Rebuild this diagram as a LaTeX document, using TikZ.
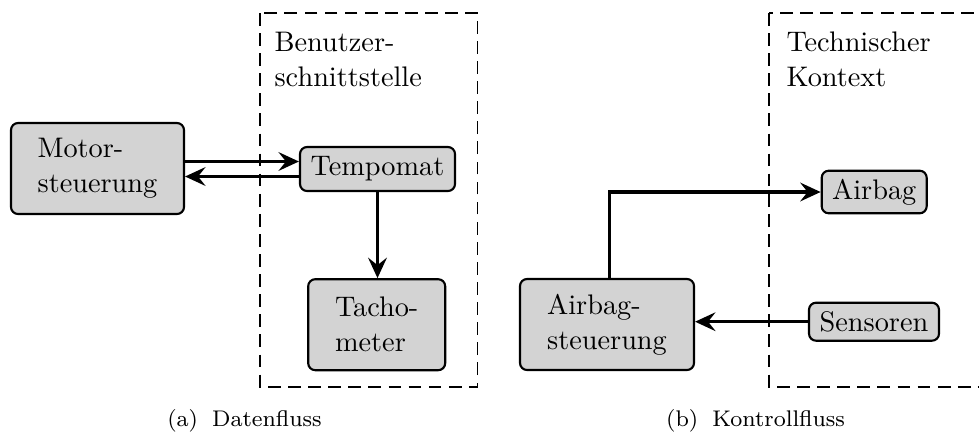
\documentclass[tikz,border=0pt]{standalone}
\usetikzlibrary{arrows.meta,calc}
\definecolor{boxgray}{RGB}{211,211,211}
\newdimen\pxu \pxu=0.3534pt
\tikzset{
 blk/.style={draw, line width=0.75pt, fill=boxgray, rounded corners=2.5pt, inner sep=0pt, align=left, font=\fontsize{10}{12.4}\selectfont},
 flow/.style={line width=1.1pt, -{Stealth[length=7.2pt, width=6.6pt, inset=2.6pt]}},
 region/.style={draw, line width=0.7pt, dash pattern=on 4.5pt off 2.6pt},
 regtitle/.style={anchor=north west, inner sep=0pt, align=left, font=\fontsize{10}{12.4}\selectfont},
 captxt/.style={anchor=base, inner sep=0pt, font=\footnotesize}
}
\begin{document}
\begin{tikzpicture}[x=0.3534pt, y=-0.3534pt]
\clip (0,0) rectangle (979,433);
\draw[region] (260,13) rectangle (477.5,386.7);
\draw[region] (769,13) rectangle (1000,386.7);
\node[regtitle] (bt) at (274,31.7) {Benutzer-\\schnittstelle};
\node[regtitle] (tk) at (786,31.7) {Technischer\\Kontext};
\node[blk, minimum width=173\pxu, minimum height=91\pxu] (motor) at (97.5,168.5) {Motor-\\steuerung};
\node[blk, minimum width=155\pxu, minimum height=44\pxu] (tempo) at (377.5,169) {Tempomat};
\node[blk, minimum width=137\pxu, minimum height=91\pxu] (tacho) at (376.7,324.7) {Tacho-\\meter};
\node[blk, minimum width=174\pxu, minimum height=91\pxu] (asteu) at (607,324.5) {Airbag-\\steuerung};
\node[blk, minimum width=105\pxu, minimum height=42.6\pxu] (airbag) at (874.2,192) {Airbag};
\node[blk, minimum width=130\pxu, minimum height=38\pxu] (sensor) at (874,321.7) {Sensoren};
\coordinate (t1) at ($(tempo.west)+(0,-7.5)$);
\coordinate (t2) at ($(tempo.west)+(0,7.5)$);
\draw[flow] (motor.east |- t1) -- (t1);
\draw[flow] (t2) -- (motor.east |- t2);
\draw[flow] (tempo.south) -- (tempo.south |- tacho.north);
\draw[flow] ([xshift=1pt]asteu.north) |- (airbag.west);
\draw[flow] (sensor.west) -- (sensor.west -| asteu.east);
\node[captxt] (ca) at (244.5,426) {(a)\hspace{5pt}Datenfluss};
\node[captxt] (cb) at (755.5,426) {(b)\hspace{5pt}Kontrollfluss};
\end{tikzpicture}
\end{document}
